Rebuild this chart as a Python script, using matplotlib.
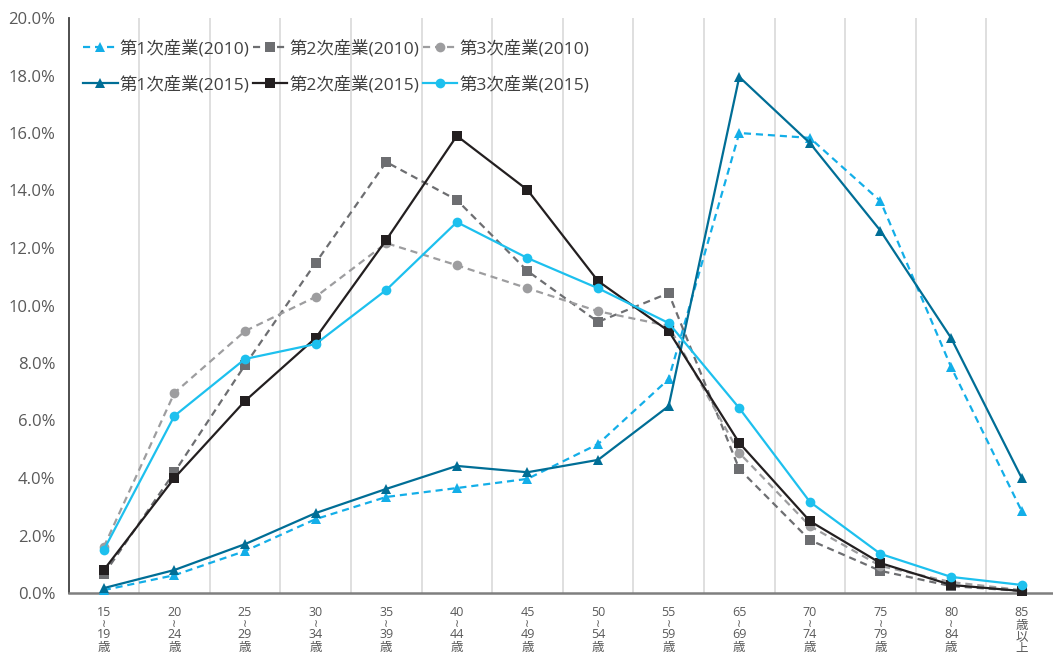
import numpy as np
import matplotlib
matplotlib.use('Agg')
import matplotlib.pyplot as plt
from matplotlib.ticker import FuncFormatter, MultipleLocator
from matplotlib.transforms import offset_copy

plt.rcParams['font.family'] = ['Open Sans', 'Noto Sans CJK JP', 'DejaVu Sans']

# age groups (each label is written vertically, top to bottom)
ages = [['15', '≀', '19', '歳'], ['20', '≀', '24', '歳'], ['25', '≀', '29', '歳'],
        ['30', '≀', '34', '歳'], ['35', '≀', '39', '歳'], ['40', '≀', '44', '歳'],
        ['45', '≀', '49', '歳'], ['50', '≀', '54', '歳'], ['55', '≀', '59', '歳'],
        ['65', '≀', '69', '歳'], ['70', '≀', '74', '歳'], ['75', '≀', '79', '歳'],
        ['80', '≀', '84', '歳'], ['85', '歳', '以', '上']]

# shares (%) by industry and census year
primary_2010 = [0.10, 0.62, 1.46, 2.57, 3.34, 3.65, 3.97, 5.18, 7.44, 16.0, 15.83, 13.63, 7.86, 2.85]
secondary_2010 = [0.65, 4.20, 7.93, 11.48, 14.99, 13.67, 11.20, 9.43, 10.43, 4.31, 1.84, 0.77, 0.24, 0.07]
tertiary_2010 = [1.60, 6.96, 9.11, 10.30, 12.17, 11.40, 10.60, 9.80, 9.29, 4.87, 2.33, 0.94, 0.38, 0.10]
primary_2015 = [0.17, 0.80, 1.70, 2.78, 3.62, 4.42, 4.20, 4.63, 6.50, 17.95, 15.65, 12.60, 8.87, 4.00]
secondary_2015 = [0.80, 4.00, 6.68, 8.87, 12.28, 15.90, 14.02, 10.85, 9.11, 5.22, 2.50, 1.04, 0.28, 0.07]
tertiary_2015 = [1.50, 6.16, 8.14, 8.66, 10.54, 12.90, 11.65, 10.60, 9.39, 6.43, 3.17, 1.36, 0.56, 0.28]

x = np.arange(len(ages))

fig = plt.figure(figsize=(10.53, 6.61), dpi=100)
ax = fig.add_axes([68.5 / 1053, 68 / 661, 988.5 / 1053, 575 / 661])

dash = (0, (3.2, 2.2))
lw = 1.6
ms = 7

series = [
    (primary_2010, '第1次産業(2010)', '#13AEE8', '^', dash),
    (secondary_2010, '第2次産業(2010)', '#6D6E71', 's', dash),
    (tertiary_2010, '第3次産業(2010)', '#9D9D9F', 'o', dash),
    (primary_2015, '第1次産業(2015)', '#006E96', '^', '-'),
    (secondary_2015, '第2次産業(2015)', '#231F20', 's', '-'),
    (tertiary_2015, '第3次産業(2015)', '#1DC0EE', 'o', '-'),
]

lines = {}
for vals, label, color, marker, ls in series:
    ln, = ax.plot(x, vals, color=color, linestyle=ls, linewidth=lw,
                  marker=marker, markersize=ms, markeredgewidth=0,
                  label=label, clip_on=False, zorder=3)
    lines[label] = ln

ax.set_xlim(-0.5, len(ages) - 0.5)
ax.set_ylim(0, 20)
ax.yaxis.set_major_locator(MultipleLocator(2))
ax.yaxis.set_major_formatter(FuncFormatter(lambda v, p: f'{v:.1f}%'))
ax.set_xticks(x)
ax.set_xticklabels([])
ax.tick_params(axis='x', length=0)
ax.tick_params(axis='y', length=0, pad=9.5, labelsize=12, labelcolor='#595959')

# vertical age labels
base = ax.get_xaxis_transform()
for i, parts in enumerate(ages):
    if parts[1] == '≀':
        offs = [-20, -31, -42, -54]
    else:
        offs = [-20, -32, -44, -56]
    for part, dy in zip(parts, offs):
        tr = offset_copy(base, fig=fig, y=dy, units='dots')
        if part == '≀':
            ax.text(i, 0, part, transform=tr, ha='center', va='center',
                    fontsize=8, family='DejaVu Sans', color='#595959')
        else:
            ax.text(i, 0, part, transform=tr, ha='center', va='center',
                    fontsize=9, color='#595959')

# vertical separators between age groups
for b in np.arange(0.5, len(ages) - 0.5, 1):
    ax.axvline(b, color='#D9D9D9', linewidth=1.2, zorder=0)

for side in ['top', 'right']:
    ax.spines[side].set_visible(False)
ax.spines['left'].set_color('#404040')
ax.spines['left'].set_linewidth(1.3)
ax.spines['bottom'].set_color('#7F7F7F')
ax.spines['bottom'].set_linewidth(1.8)

order = ['第1次産業(2010)', '第1次産業(2015)', '第2次産業(2010)',
         '第2次産業(2015)', '第3次産業(2010)', '第3次産業(2015)']
ax.legend([lines[k] for k in order], order, ncol=3, frameon=False,
          loc='upper left', bbox_to_anchor=(76 / 1053, 1 - 33 / 661),
          bbox_transform=fig.transFigure, fontsize=12.5,
          handlelength=2.0, handletextpad=0.1, columnspacing=0.2,
          labelspacing=1.05, borderaxespad=0, labelcolor='#404040')

fig.savefig('out.png', dpi=100)
